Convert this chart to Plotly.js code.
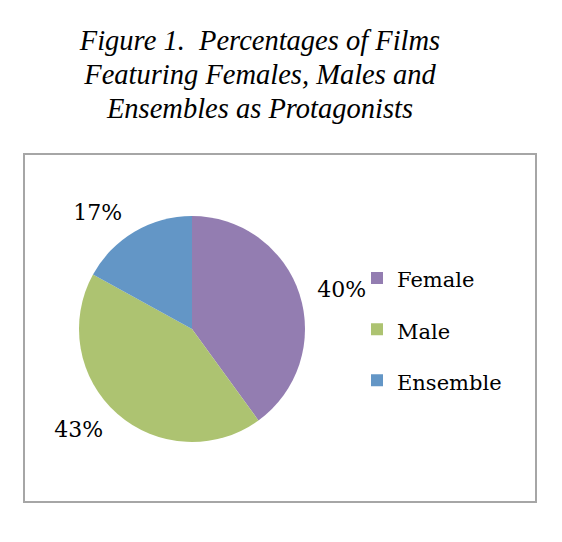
<!DOCTYPE html>
<html>
<head>
<meta charset="utf-8">
<script src="https://cdn.plot.ly/plotly-3.0.1.min.js"></script>
<style>html,body{margin:0;padding:0;background:#fff;}#chart{width:562px;height:542px;}</style>
</head>
<body>
<div id="chart"></div>
<script>
var categories = ['Female', 'Male', 'Ensemble'];
var shares = [40, 43, 17];
var sliceColors = ['#937DB1', '#ADC371', '#6396C6'];
var titleLines = ['Figure 1.\u00a0 Percentages of Films', 'Featuring Females, Males and', 'Ensembles as Protagonists'];

var legendLabels = categories.map(function (c) {
  return '<span style="font-size:21px;baseline-shift:5px">' + c + '</span>';
});
var titleText = titleLines.map(function (l) {
  return '<span style="font-size:28.5px;font-style:italic">' + l + '</span>';
}).join('<br>');

var pieDomain = {x: [79 / 562, 305 / 562], y: [(542 - 442) / 542, (542 - 216) / 542]};
var labelDomain = {x: [67 / 562, 317 / 562], y: [(542 - 454) / 542, (542 - 204) / 542]};

var data = [{
  type: 'pie',
  labels: legendLabels,
  values: shares,
  sort: false,
  direction: 'clockwise',
  rotation: 0,
  marker: {colors: sliceColors, line: {width: 0}},
  textinfo: 'none',
  hoverinfo: 'none',
  domain: pieDomain
}, {
  type: 'pie',
  labels: legendLabels,
  values: shares,
  sort: false,
  direction: 'clockwise',
  rotation: 0,
  showlegend: false,
  marker: {colors: ['rgba(0,0,0,0)', 'rgba(0,0,0,0)', 'rgba(0,0,0,0)'], line: {width: 0}},
  textinfo: 'percent',
  textposition: 'outside',
  outsidetextfont: {family: 'DejaVu Serif', size: 22, color: '#000'},
  hoverinfo: 'none',
  domain: labelDomain
}];

var layout = {
  width: 562,
  height: 542,
  margin: {l: 0, r: 0, t: 0, b: 0},
  paper_bgcolor: '#fff',
  showlegend: true,
  title: {
    text: titleText,
    font: {family: 'Liberation Serif', size: 26, color: '#000'},
    x: 260 / 562,
    xanchor: 'center',
    xref: 'paper',
    y: 1 - 50 / 542,
    yanchor: 'top',
    yref: 'paper'
  },
  legend: {
    x: 357 / 562,
    xanchor: 'left',
    y: (542 - 247.5) / 542,
    yanchor: 'top',
    font: {family: 'DejaVu Serif', size: 37, color: '#000'},
    bgcolor: 'rgba(0,0,0,0)'
  },
  shapes: [{
    type: 'rect', xref: 'paper', yref: 'paper', layer: 'below',
    x0: 24 / 562, x1: 536 / 562, y0: (542 - 502) / 542, y1: (542 - 154) / 542,
    line: {color: '#A6A6A6', width: 2}
  }]
};

Plotly.newPlot('chart', data, layout, {displayModeBar: false, staticPlot: true});
</script>
</body>
</html>
